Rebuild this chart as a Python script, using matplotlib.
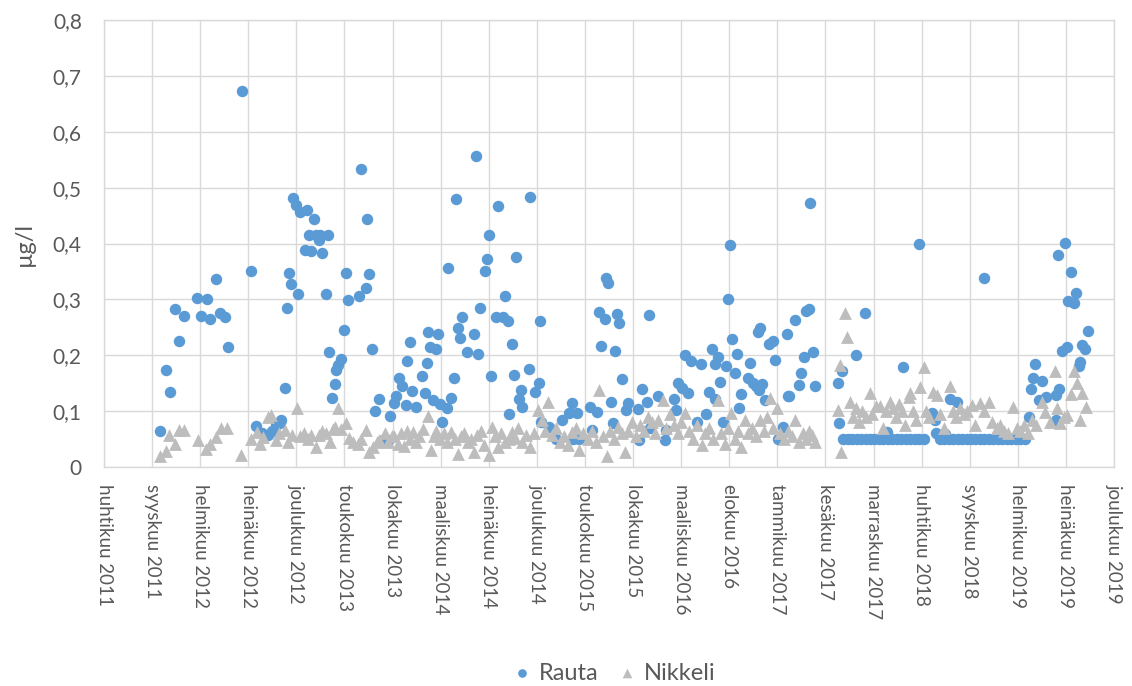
import numpy as np
import matplotlib
matplotlib.use("Agg")
import matplotlib.pyplot as plt

plt.rcParams['font.family'] = ['Lato', 'DejaVu Sans']

# Rauta (iron), µg/l
rauta_dates = [
    "2011-10-10", "2011-10-27", "2011-11-08", "2011-11-24", "2011-12-07", "2011-12-22", "2012-02-02", "2012-02-14",
    "2012-03-02", "2012-03-13", "2012-03-30", "2012-04-12", "2012-04-28", "2012-05-09", "2012-06-19", "2012-07-17",
    "2012-08-02", "2012-08-21", "2012-09-08", "2012-09-21", "2012-10-03", "2012-10-16", "2012-10-21", "2012-10-31",
    "2012-11-07", "2012-11-14", "2012-11-21", "2012-11-26", "2012-12-05", "2012-12-13", "2012-12-19", "2013-01-02",
    "2013-01-10", "2013-01-15", "2013-01-23", "2013-01-31", "2013-02-05", "2013-02-16", "2013-02-18", "2013-02-26",
    "2013-03-08", "2013-03-16", "2013-03-20", "2013-03-27", "2013-04-06", "2013-04-11", "2013-04-16", "2013-04-24",
    "2013-05-04", "2013-05-10", "2013-05-16", "2013-06-19", "2013-06-25", "2013-07-12", "2013-07-16", "2013-07-23",
    "2013-07-31", "2013-08-09", "2013-08-21", "2013-09-03", "2013-09-18", "2013-09-26", "2013-10-07", "2013-10-13",
    "2013-10-23", "2013-11-02", "2013-11-13", "2013-11-16", "2013-11-25", "2013-12-04", "2013-12-14", "2014-01-04",
    "2014-01-12", "2014-01-17", "2014-01-22", "2014-01-27", "2014-02-07", "2014-02-15", "2014-02-22", "2014-02-27",
    "2014-03-06", "2014-03-22", "2014-03-26", "2014-04-04", "2014-04-12", "2014-04-18", "2014-04-25", "2014-05-01",
    "2014-05-07", "2014-05-23", "2014-06-14", "2014-06-19", "2014-06-26", "2014-07-02", "2014-07-19", "2014-07-25",
    "2014-07-30", "2014-08-07", "2014-08-21", "2014-08-28", "2014-09-13", "2014-09-19", "2014-09-27", "2014-10-02",
    "2014-10-10", "2014-10-17", "2014-10-23", "2014-11-01", "2014-11-07", "2014-11-12", "2014-12-03", "2014-12-05",
    "2014-12-20", "2015-01-02", "2015-01-07", "2015-01-10", "2015-02-03", "2015-02-26", "2015-03-16", "2015-04-05",
    "2015-04-15", "2015-04-19", "2015-04-30", "2015-05-08", "2015-06-11", "2015-06-16", "2015-07-03", "2015-07-09",
    "2015-07-15", "2015-07-27", "2015-07-30", "2015-08-07", "2015-08-14", "2015-08-20", "2015-08-29", "2015-09-04",
    "2015-09-10", "2015-09-17", "2015-10-01", "2015-10-08", "2015-11-07", "2015-11-12", "2015-11-20", "2015-12-05",
    "2015-12-11", "2015-12-14", "2016-01-10", "2016-01-30", "2016-02-04", "2016-02-29", "2016-03-05", "2016-03-11",
    "2016-03-25", "2016-04-02", "2016-04-10", "2016-04-21", "2016-05-09", "2016-05-23", "2016-06-05", "2016-06-17",
    "2016-06-24", "2016-07-05", "2016-07-06", "2016-07-15", "2016-07-20", "2016-07-31", "2016-08-08", "2016-08-13",
    "2016-08-19", "2016-08-26", "2016-09-06", "2016-09-10", "2016-09-16", "2016-09-23", "2016-10-14", "2016-10-21",
    "2016-10-31", "2016-11-10", "2016-11-17", "2016-11-18", "2016-11-22", "2016-11-29", "2016-12-08", "2016-12-21",
    "2016-12-31", "2017-01-08", "2017-01-18", "2017-02-03", "2017-02-13", "2017-02-17", "2017-02-20", "2017-03-12",
    "2017-03-25", "2017-03-31", "2017-04-07", "2017-04-15", "2017-04-25", "2017-04-28", "2017-05-05", "2017-05-14",
    "2017-07-22", "2017-07-25", "2017-08-04", "2017-08-08", "2017-08-22", "2017-09-05", "2017-09-18", "2017-09-19",
    "2017-10-03", "2017-10-16", "2017-10-17", "2017-10-31", "2017-11-14", "2017-11-28", "2017-12-12", "2017-12-23",
    "2017-12-27", "2018-01-09", "2018-01-23", "2018-02-06", "2018-02-10", "2018-02-20", "2018-03-06", "2018-03-20",
    "2018-04-02", "2018-04-03", "2018-04-17", "2018-05-12", "2018-05-22", "2018-05-25", "2018-06-05", "2018-06-19",
    "2018-06-23", "2018-07-03", "2018-07-08", "2018-07-17", "2018-07-29", "2018-07-31", "2018-08-14", "2018-08-28",
    "2018-09-11", "2018-09-25", "2018-10-09", "2018-10-21", "2018-10-23", "2018-11-06", "2018-11-20", "2018-12-04",
    "2018-12-18", "2019-01-01", "2019-01-15", "2019-01-29", "2019-02-12", "2019-02-26", "2019-03-10", "2019-03-17",
    "2019-03-23", "2019-03-31", "2019-04-10", "2019-04-21", "2019-05-04", "2019-06-03", "2019-06-04", "2019-06-10",
    "2019-06-14", "2019-06-22", "2019-07-02", "2019-07-07", "2019-07-12", "2019-07-20", "2019-07-28", "2019-08-06",
    "2019-08-13", "2019-08-18", "2019-08-24", "2019-09-03", "2019-09-10",
]
rauta_ug = [
    0.065, 0.174, 0.135, 0.283, 0.225, 0.271, 0.302, 0.270,
    0.301, 0.265, 0.337, 0.275, 0.268, 0.215, 0.673, 0.350,
    0.073, 0.060, 0.057, 0.065, 0.075, 0.078, 0.085, 0.141,
    0.285, 0.348, 0.327, 0.481, 0.469, 0.309, 0.456, 0.389,
    0.460, 0.415, 0.386, 0.444, 0.415, 0.407, 0.415, 0.383,
    0.310, 0.415, 0.206, 0.124, 0.148, 0.174, 0.182, 0.194,
    0.245, 0.348, 0.299, 0.306, 0.533, 0.320, 0.444, 0.345,
    0.211, 0.100, 0.121, 0.048, 0.048, 0.092, 0.115, 0.127,
    0.160, 0.145, 0.111, 0.189, 0.224, 0.136, 0.108, 0.162,
    0.133, 0.187, 0.241, 0.215, 0.120, 0.211, 0.238, 0.112,
    0.080, 0.106, 0.357, 0.124, 0.159, 0.479, 0.249, 0.230,
    0.269, 0.206, 0.238, 0.556, 0.202, 0.285, 0.350, 0.372,
    0.415, 0.163, 0.269, 0.467, 0.269, 0.306, 0.261, 0.095,
    0.220, 0.165, 0.376, 0.121, 0.138, 0.108, 0.175, 0.484,
    0.134, 0.150, 0.261, 0.080, 0.072, 0.051, 0.085, 0.097,
    0.115, 0.050, 0.096, 0.050, 0.108, 0.067, 0.098, 0.278,
    0.216, 0.265, 0.338, 0.330, 0.117, 0.078, 0.207, 0.274,
    0.258, 0.158, 0.102, 0.115, 0.103, 0.048, 0.140, 0.117,
    0.272, 0.069, 0.127, 0.048, 0.067, 0.121, 0.102, 0.151,
    0.141, 0.200, 0.133, 0.190, 0.080, 0.184, 0.094, 0.134,
    0.211, 0.184, 0.122, 0.197, 0.153, 0.081, 0.181, 0.300,
    0.397, 0.229, 0.168, 0.202, 0.106, 0.130, 0.160, 0.187,
    0.151, 0.145, 0.242, 0.138, 0.248, 0.148, 0.120, 0.220,
    0.226, 0.191, 0.051, 0.072, 0.238, 0.127, 0.127, 0.263,
    0.147, 0.169, 0.197, 0.280, 0.282, 0.473, 0.205, 0.145,
    0.151, 0.078, 0.172, 0.050, 0.050, 0.050, 0.200, 0.050,
    0.050, 0.275, 0.050, 0.050, 0.050, 0.050, 0.050, 0.063,
    0.050, 0.050, 0.050, 0.050, 0.179, 0.050, 0.050, 0.050,
    0.399, 0.050, 0.050, 0.097, 0.084, 0.061, 0.050, 0.050,
    0.059, 0.050, 0.122, 0.050, 0.116, 0.050, 0.050, 0.050,
    0.050, 0.050, 0.050, 0.339, 0.050, 0.050, 0.050, 0.050,
    0.050, 0.050, 0.050, 0.050, 0.050, 0.050, 0.090, 0.139,
    0.159, 0.184, 0.120, 0.154, 0.125, 0.084, 0.129, 0.379,
    0.139, 0.207, 0.401, 0.215, 0.297, 0.349, 0.294, 0.311,
    0.181, 0.188, 0.218, 0.212, 0.243,
]

# Nikkeli (nickel), µg/l
nikkeli_dates = [
    "2011-10-09", "2011-10-26", "2011-11-07", "2011-11-23", "2011-12-06", "2011-12-21", "2012-02-04", "2012-03-01",
    "2012-03-13", "2012-04-01", "2012-04-17", "2012-05-05", "2012-06-18", "2012-07-19", "2012-08-07", "2012-08-14",
    "2012-08-24", "2012-09-09", "2012-09-20", "2012-10-05", "2012-10-13", "2012-10-31", "2012-11-10", "2012-11-22",
    "2012-12-08", "2012-12-19", "2012-12-31", "2013-01-11", "2013-01-21", "2013-02-07", "2013-02-14", "2013-02-24",
    "2013-03-08", "2013-03-21", "2013-03-30", "2013-04-06", "2013-04-17", "2013-04-24", "2013-05-12", "2013-05-19",
    "2013-06-01", "2013-06-18", "2013-06-25", "2013-07-11", "2013-07-23", "2013-08-02", "2013-08-14", "2013-08-23",
    "2013-09-08", "2013-09-18", "2013-09-30", "2013-10-09", "2013-10-19", "2013-10-28", "2013-11-07", "2013-11-16",
    "2013-11-26", "2013-12-05", "2013-12-14", "2013-12-23", "2014-01-05", "2014-01-21", "2014-01-31", "2014-02-08",
    "2014-02-17", "2014-02-27", "2014-03-12", "2014-03-21", "2014-04-03", "2014-04-15", "2014-04-25", "2014-05-04",
    "2014-05-13", "2014-05-26", "2014-06-04", "2014-06-13", "2014-06-22", "2014-07-05", "2014-07-14", "2014-07-30",
    "2014-08-08", "2014-08-18", "2014-08-27", "2014-09-06", "2014-09-18", "2014-10-01", "2014-10-10", "2014-10-19",
    "2014-10-30", "2014-11-10", "2014-11-23", "2014-12-05", "2014-12-18", "2015-01-01", "2015-01-12", "2015-01-21",
    "2015-01-31", "2015-02-11", "2015-02-24", "2015-03-09", "2015-03-22", "2015-04-03", "2015-04-15", "2015-04-28",
    "2015-05-08", "2015-05-19", "2015-06-04", "2015-06-17", "2015-06-30", "2015-07-09", "2015-07-21", "2015-08-02",
    "2015-08-12", "2015-08-25", "2015-09-05", "2015-09-18", "2015-09-27", "2015-10-07", "2015-10-19", "2015-11-01",
    "2015-11-13", "2015-11-26", "2015-12-08", "2015-12-21", "2015-12-31", "2016-01-09", "2016-01-23", "2016-02-04",
    "2016-02-16", "2016-02-29", "2016-03-11", "2016-03-21", "2016-04-02", "2016-04-14", "2016-04-27", "2016-05-10",
    "2016-05-24", "2016-06-03", "2016-06-16", "2016-06-29", "2016-07-15", "2016-07-23", "2016-08-05", "2016-08-14",
    "2016-08-25", "2016-09-05", "2016-09-14", "2016-09-23", "2016-10-07", "2016-10-16", "2016-10-28", "2016-11-10",
    "2016-11-22", "2016-12-05", "2016-12-14", "2016-12-23", "2017-01-02", "2017-01-14", "2017-01-24", "2017-02-05",
    "2017-02-18", "2017-03-02", "2017-03-12", "2017-03-24", "2017-04-06", "2017-04-15", "2017-04-25", "2017-05-04",
    "2017-05-14", "2017-07-23", "2017-07-28", "2017-08-01", "2017-08-15", "2017-08-20", "2017-08-31", "2017-09-09",
    "2017-09-18", "2017-09-28", "2017-10-07", "2017-10-19", "2017-10-30", "2017-11-07", "2017-11-19", "2017-11-30",
    "2017-12-11", "2017-12-21", "2017-12-31", "2018-01-11", "2018-01-21", "2018-01-28", "2018-02-08", "2018-02-18",
    "2018-03-01", "2018-03-06", "2018-03-14", "2018-03-24", "2018-04-06", "2018-04-16", "2018-04-24", "2018-05-04",
    "2018-05-14", "2018-05-27", "2018-06-07", "2018-06-20", "2018-07-06", "2018-07-17", "2018-07-26", "2018-08-08",
    "2018-08-21", "2018-08-31", "2018-09-14", "2018-09-25", "2018-10-10", "2018-10-20", "2018-11-05", "2018-11-17",
    "2018-11-30", "2018-12-11", "2018-12-24", "2019-01-05", "2019-01-20", "2019-01-31", "2019-02-12", "2019-02-24",
    "2019-03-09", "2019-03-21", "2019-04-03", "2019-04-21", "2019-05-01", "2019-05-16", "2019-06-01", "2019-06-05",
    "2019-06-16", "2019-06-28", "2019-07-08", "2019-07-21", "2019-07-29", "2019-08-09", "2019-08-16", "2019-08-24",
    "2019-09-06",
]
nikkeli_ug = [
    0.019, 0.029, 0.057, 0.042, 0.066, 0.066, 0.048, 0.033,
    0.042, 0.054, 0.069, 0.069, 0.021, 0.051, 0.062, 0.042,
    0.054, 0.090, 0.093, 0.048, 0.060, 0.066, 0.045, 0.058,
    0.105, 0.055, 0.060, 0.050, 0.058, 0.036, 0.058, 0.065,
    0.060, 0.045, 0.068, 0.072, 0.106, 0.068, 0.078, 0.052,
    0.044, 0.042, 0.050, 0.067, 0.027, 0.035, 0.045, 0.048,
    0.060, 0.045, 0.056, 0.055, 0.042, 0.060, 0.038, 0.065,
    0.050, 0.062, 0.045, 0.055, 0.068, 0.091, 0.030, 0.055,
    0.065, 0.050, 0.060, 0.045, 0.062, 0.050, 0.024, 0.055,
    0.060, 0.045, 0.050, 0.027, 0.058, 0.065, 0.040, 0.021,
    0.072, 0.055, 0.035, 0.060, 0.045, 0.050, 0.062, 0.052,
    0.069, 0.045, 0.058, 0.035, 0.060, 0.102, 0.085, 0.065,
    0.117, 0.058, 0.070, 0.045, 0.055, 0.040, 0.062, 0.070,
    0.030, 0.060, 0.050, 0.065, 0.045, 0.138, 0.055, 0.020,
    0.065, 0.050, 0.072, 0.060, 0.027, 0.065, 0.080, 0.055,
    0.075, 0.065, 0.090, 0.080, 0.060, 0.085, 0.120, 0.070,
    0.095, 0.075, 0.060, 0.080, 0.096, 0.065, 0.050, 0.075,
    0.039, 0.060, 0.070, 0.050, 0.120, 0.060, 0.042, 0.070,
    0.097, 0.050, 0.065, 0.036, 0.084, 0.060, 0.070, 0.055,
    0.084, 0.065, 0.090, 0.123, 0.070, 0.105, 0.060, 0.050,
    0.065, 0.055, 0.084, 0.045, 0.060, 0.050, 0.065, 0.058,
    0.045, 0.102, 0.182, 0.027, 0.275, 0.233, 0.117, 0.090,
    0.105, 0.080, 0.100, 0.090, 0.132, 0.095, 0.110, 0.110,
    0.070, 0.100, 0.116, 0.105, 0.090, 0.113, 0.100, 0.075,
    0.126, 0.132, 0.100, 0.085, 0.144, 0.179, 0.100, 0.090,
    0.135, 0.129, 0.095, 0.070, 0.145, 0.100, 0.090, 0.105,
    0.095, 0.100, 0.111, 0.075, 0.114, 0.100, 0.117, 0.080,
    0.070, 0.075, 0.065, 0.060, 0.108, 0.070, 0.065, 0.075,
    0.060, 0.085, 0.075, 0.117, 0.099, 0.080, 0.172, 0.105,
    0.078, 0.090, 0.093, 0.131, 0.172, 0.150, 0.084, 0.132,
    0.108,
]

x_labels = [
    "huhtikuu 2011", "syyskuu 2011", "helmikuu 2012", "heinäkuu 2012", "joulukuu 2012",
    "toukokuu 2013", "lokakuu 2013", "maaliskuu 2014", "heinäkuu 2014", "joulukuu 2014",
    "toukokuu 2015", "lokakuu 2015", "maaliskuu 2016", "elokuu 2016", "tammikuu 2017",
    "kesäkuu 2017", "marraskuu 2017", "huhtikuu 2018", "syyskuu 2018", "helmikuu 2019",
    "heinäkuu 2019", "joulukuu 2019",
]
y_ticks = [0, 0.1, 0.2, 0.3, 0.4, 0.5, 0.6, 0.7, 0.8]
y_labels = ["0", "0,1", "0,2", "0,3", "0,4", "0,5", "0,6", "0,7", "0,8"]

blue = "#5B9BD5"
grey = "#BDBDBD"
text_col = "#595959"
grid_col = "#D9D9D9"

rx = np.array(rauta_dates, dtype="datetime64[D]")
nx = np.array(nikkeli_dates, dtype="datetime64[D]")

# axis runs from mid-April 2011 with a major step of 150 days
x_start = np.datetime64("2011-04-17")
x_ticks = x_start + np.arange(len(x_labels)) * np.timedelta64(150, "D")

fig = plt.figure(figsize=(11.32, 6.86), dpi=100)
ax = fig.add_axes([104 / 1132, 1 - 467 / 686, 1010 / 1132, 447 / 686])

ax.scatter(rx, rauta_ug, s=68, marker="o", color=blue, linewidths=0, label="Rauta", zorder=3)
ax.scatter(nx, nikkeli_ug, s=85, marker="^", color=grey, linewidths=0, label="Nikkeli", zorder=4)

ax.set_xlim(x_ticks[0], x_ticks[-1])
ax.set_ylim(0, 0.8)
ax.set_xticks(x_ticks)
ax.set_xticklabels(x_labels, rotation=-90, fontsize=13.5, color=text_col, va="top", ha="center")
ax.set_yticks(y_ticks)
ax.set_yticklabels(y_labels, fontsize=15, color=text_col)
ax.tick_params(axis="x", length=0, pad=12)
ax.tick_params(axis="y", length=0, pad=16)

ax.grid(True, color=grid_col, linewidth=1)
ax.set_axisbelow(True)
for sp in ax.spines.values():
    sp.set_color(grid_col)
    sp.set_linewidth(1)

ax.set_ylabel("µg/l", fontsize=17, color=text_col)
ax.yaxis.set_label_coords(-0.068, 0.5)

fig.legend(loc="center", bbox_to_anchor=(614 / 1132, 1 - 673 / 686), ncol=2, frameon=False,
           fontsize=17, labelcolor=text_col, markerscale=0.75, handlelength=0.8,
           handletextpad=0.3, columnspacing=0.8)

fig.savefig("out.png", dpi=100)
